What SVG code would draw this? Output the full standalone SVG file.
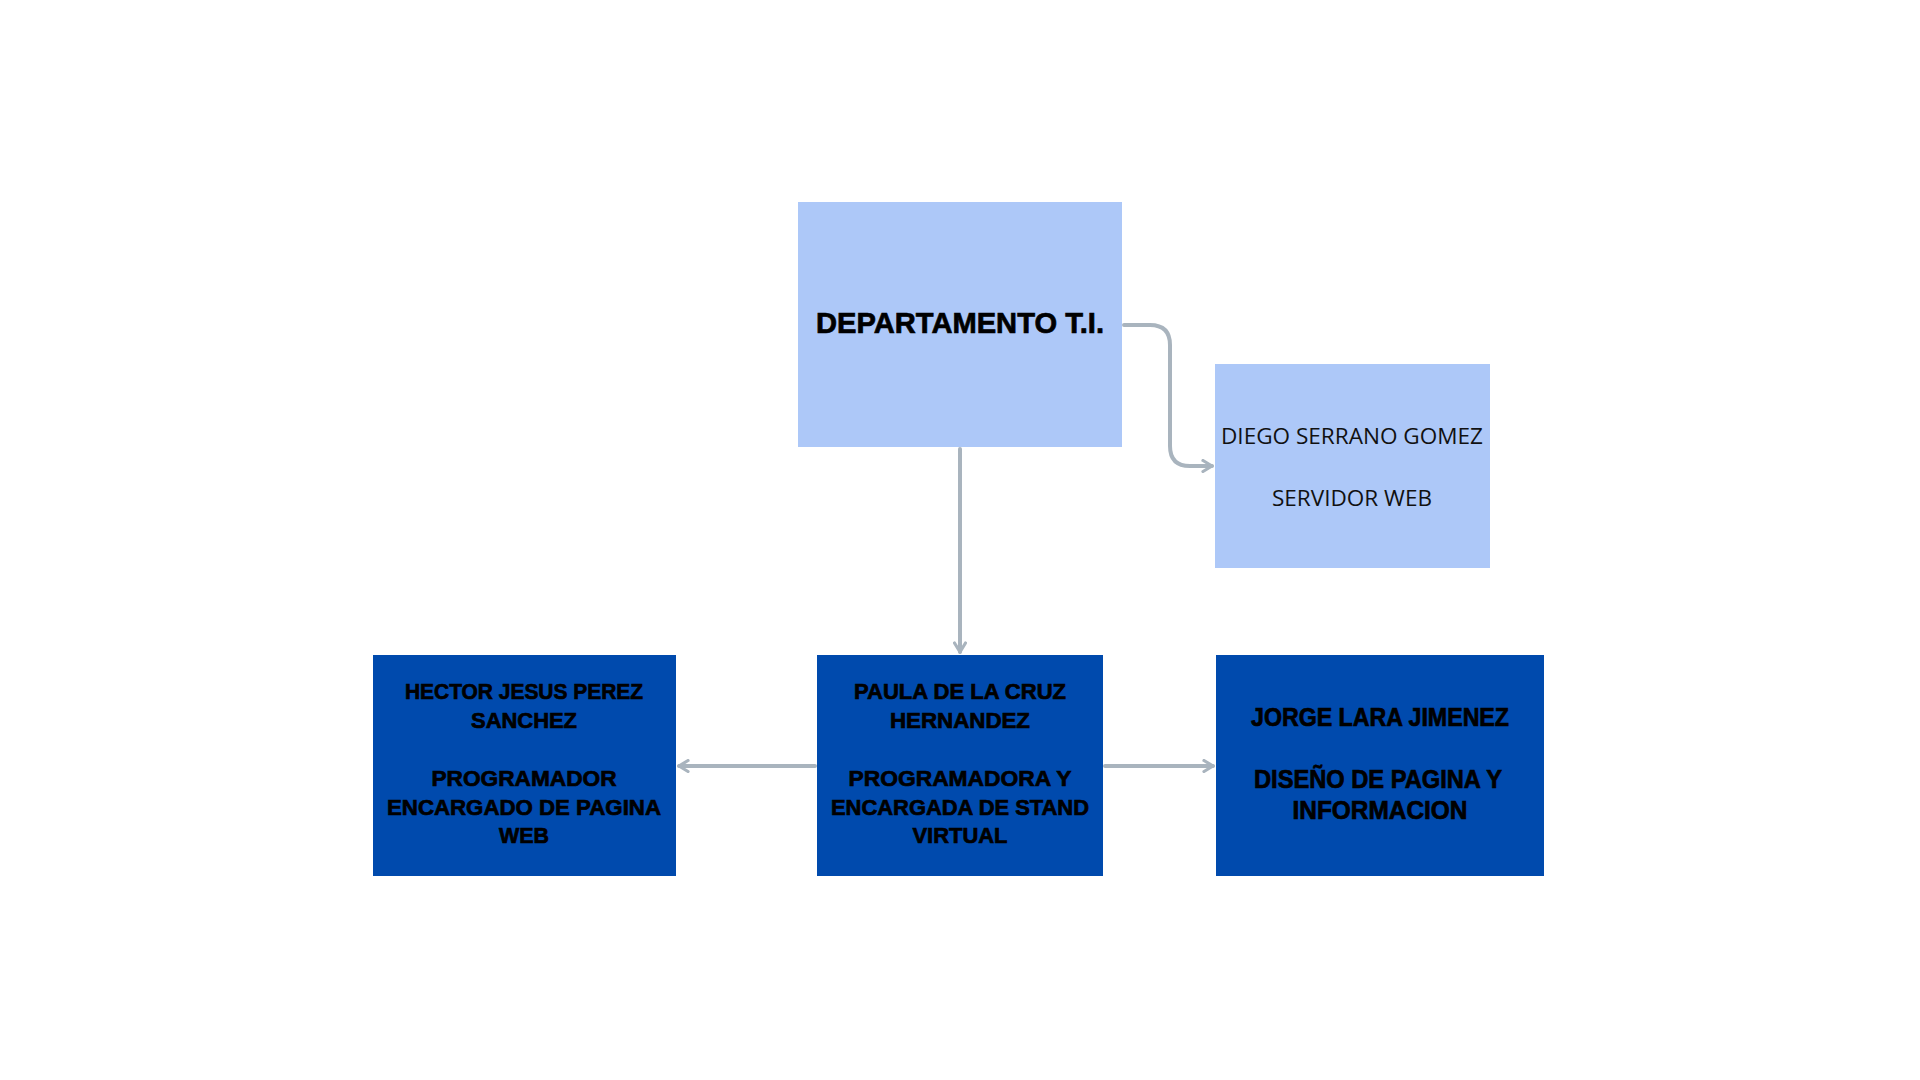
<svg xmlns="http://www.w3.org/2000/svg" width="1920" height="1080" viewBox="0 0 1920 1080">
<style>
.light{fill:#ADC8F8;}
.dark{fill:#004AAD;}
.conn{fill:none;stroke:#A9B4BE;stroke-width:4;stroke-linecap:round;stroke-linejoin:round;}
.b{font-family:"Liberation Sans",Arial,sans-serif;font-weight:bold;fill:#000;stroke:#000;stroke-width:0.7;text-anchor:middle;}
.r{font-family:"Open Sans","Liberation Sans",sans-serif;fill:#111;text-anchor:middle;}
</style>
<defs>
<marker id="ah" viewBox="0 0 14 14" refX="12" refY="7" markerWidth="14" markerHeight="14" markerUnits="userSpaceOnUse" orient="auto">
<path d="M3,1.5 L12,7 L3,12.5" fill="none" stroke="#A9B4BE" stroke-width="3.2" stroke-linecap="round" stroke-linejoin="round"/>
</marker>
</defs>
<rect width="1920" height="1080" fill="#fff"/>
<g id="connectors">
<path class="conn" d="M1124,325 H1150 Q1170,325 1170,345 V446 Q1170,466 1190,466 H1212" marker-end="url(#ah)"/>
<path class="conn" d="M960,449 V652" marker-end="url(#ah)"/>
<path class="conn" d="M815,766 H679" marker-end="url(#ah)"/>
<path class="conn" d="M1105,766 H1213" marker-end="url(#ah)"/>
</g>
<g id="node-departamento">
<rect class="light" x="798" y="202" width="324" height="245"/>
<text class="b" x="960" y="333" font-size="30" textLength="288" lengthAdjust="spacingAndGlyphs">DEPARTAMENTO T.I.</text>
</g>
<g id="node-diego">
<rect class="light" x="1215" y="364" width="275" height="204"/>
<text class="r" x="1352" y="444" font-size="22" textLength="262" lengthAdjust="spacingAndGlyphs">DIEGO SERRANO GOMEZ</text>
<text class="r" x="1352" y="506" font-size="22" textLength="160" lengthAdjust="spacingAndGlyphs">SERVIDOR WEB</text>
</g>
<g id="node-hector">
<rect class="dark" x="373" y="655" width="303" height="221"/>
<text class="b" x="524" y="699" font-size="22.5" textLength="238" lengthAdjust="spacingAndGlyphs">HECTOR JESUS PEREZ</text>
<text class="b" x="524" y="728" font-size="22.5" textLength="106" lengthAdjust="spacingAndGlyphs">SANCHEZ</text>
<text class="b" x="524" y="786" font-size="22.5" textLength="185" lengthAdjust="spacingAndGlyphs">PROGRAMADOR</text>
<text class="b" x="524" y="815" font-size="22.5" textLength="274" lengthAdjust="spacingAndGlyphs">ENCARGADO DE PAGINA</text>
<text class="b" x="524" y="843" font-size="22.5" textLength="50" lengthAdjust="spacingAndGlyphs">WEB</text>
</g>
<g id="node-paula">
<rect class="dark" x="817" y="655" width="286" height="221"/>
<text class="b" x="960" y="699" font-size="22.5" textLength="212" lengthAdjust="spacingAndGlyphs">PAULA DE LA CRUZ</text>
<text class="b" x="960" y="728" font-size="22.5" textLength="140" lengthAdjust="spacingAndGlyphs">HERNANDEZ</text>
<text class="b" x="960" y="786" font-size="22.5" textLength="223" lengthAdjust="spacingAndGlyphs">PROGRAMADORA Y</text>
<text class="b" x="960" y="815" font-size="22.5" textLength="258" lengthAdjust="spacingAndGlyphs">ENCARGADA DE STAND</text>
<text class="b" x="960" y="843" font-size="22.5" textLength="95" lengthAdjust="spacingAndGlyphs">VIRTUAL</text>
</g>
<g id="node-jorge">
<rect class="dark" x="1216" y="655" width="328" height="221"/>
<text class="b" x="1380" y="726" font-size="25" textLength="258" lengthAdjust="spacingAndGlyphs">JORGE LARA JIMENEZ</text>
<text class="b" x="1378" y="788" font-size="25" textLength="248" lengthAdjust="spacingAndGlyphs">DISEÑO DE PAGINA Y</text>
<text class="b" x="1380" y="819" font-size="25" textLength="175" lengthAdjust="spacingAndGlyphs">INFORMACION</text>
</g>
</svg>
